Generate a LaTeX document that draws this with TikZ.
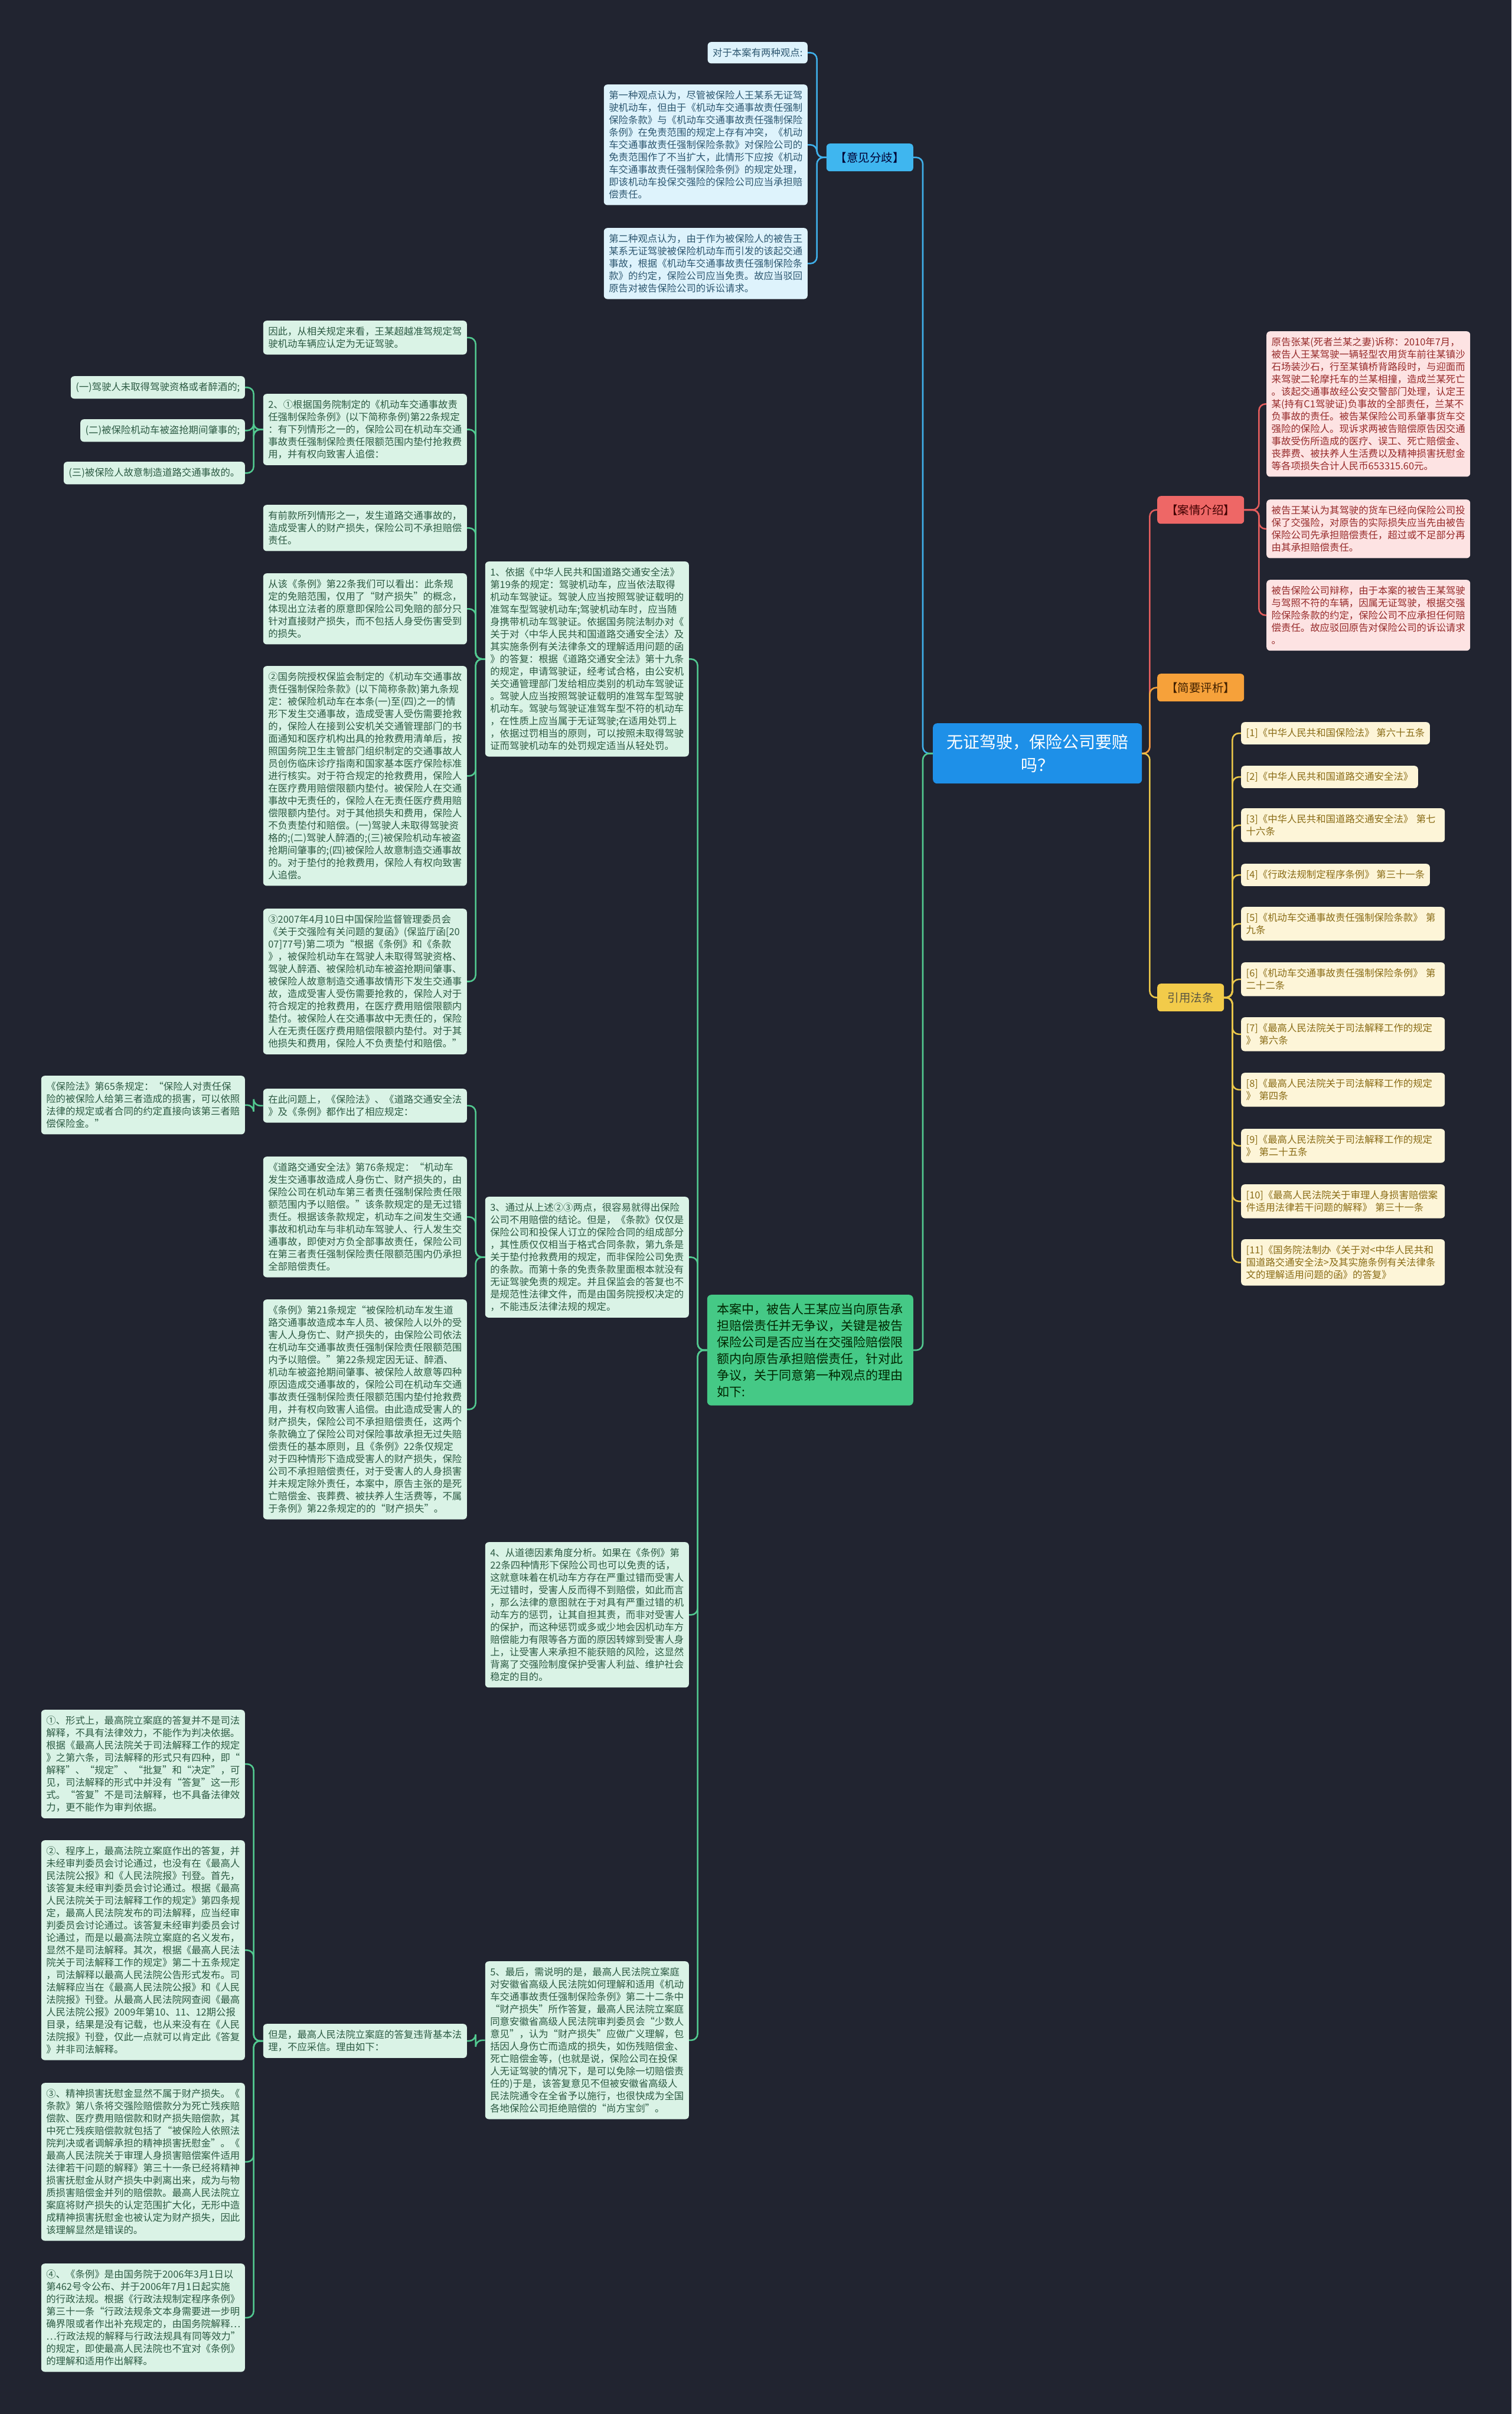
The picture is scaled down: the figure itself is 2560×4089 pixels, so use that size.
\documentclass[tikz,border=0pt]{standalone}
\usepackage{fontspec}
\setmainfont{Noto Sans CJK SC}
\definecolor{bg}{HTML}{212430}
\definecolor{bconn}{HTML}{3FB0EA}
\definecolor{bbr}{HTML}{3FB6EF}
\definecolor{bleaf}{HTML}{DEF3FC}
\definecolor{btext}{HTML}{2D5770}
\definecolor{cfill}{HTML}{1E90E8}
\definecolor{rconn}{HTML}{E35D5D}
\definecolor{rbr}{HTML}{EE6766}
\definecolor{rleaf}{HTML}{FDE3E3}
\definecolor{rtext}{HTML}{962A2A}
\definecolor{obr}{HTML}{F6A13A}
\definecolor{oconn}{HTML}{F2A03C}
\definecolor{ybr}{HTML}{F2CB4A}
\definecolor{yconn}{HTML}{E9C64A}
\definecolor{yleaf}{HTML}{FDF5D8}
\definecolor{ytext}{HTML}{8A6C16}
\definecolor{gconn}{HTML}{52C990}
\definecolor{gbr}{HTML}{45C986}
\definecolor{gleaf}{HTML}{DAF3E6}
\definecolor{gtext}{HTML}{2C5A43}
\tikzset{
  base/.style={rounded corners=6pt, inner xsep=8.5pt, inner ysep=10.5pt, align=left,
    font=\fontsize{16.4}{21}\selectfont},
  wide/.style={base, text width=328pt},
  bl/.style={fill=bleaf, text=btext},
  rl/.style={fill=rleaf, text=rtext},
  yl/.style={fill=yleaf, text=ytext},
  gl/.style={fill=gleaf, text=gtext},
  branch/.style={rounded corners=6pt, inner sep=0pt, minimum height=47pt, align=center,
    font=\fontsize{19.5}{24}\selectfont},
  conn/.style={line width=2.6pt, rounded corners=11pt},
}
\begin{document}
\begin{tikzpicture}[x=1pt,y=-1pt]
\fill[bg] (0,0) rectangle (2560,4089);
\useasboundingbox (0,0) rectangle (2560,4089);

% ---------- centre ----------
\node[anchor=north west, fill=cfill, text=white, rounded corners=7pt, minimum width=354pt,
  minimum height=102pt, inner sep=0pt, align=center, font=\fontsize{28}{39}\selectfont]
  (center) at (1580,1225) {无证驾驶，保险公司要赔\\吗？};

% ---------- opinion branch (blue) ----------
\node[branch, anchor=north east, fill=bbr, text=black!80!blue, minimum width=147pt] (yj) at (1547,243) {【意见分歧】};
\node[base, bl, anchor=north east] (b0) at (1368,71) {对于本案有两种观点:};
\node[wide, bl, anchor=north east] (b1) at (1368,143) {第一种观点认为，尽管被保险人王某系无证驾\\驶机动车，但由于《机动车交通事故责任强制\\保险条款》与《机动车交通事故责任强制保险\\条例》在免责范围的规定上存有冲突，《机动\\车交通事故责任强制保险条款》对保险公司的\\免责范围作了不当扩大，此情形下应按《机动\\车交通事故责任强制保险条例》的规定处理，\\即该机动车投保交强险的保险公司应当承担赔\\偿责任。};
\node[wide, bl, anchor=north east] (b2) at (1368,386) {第二种观点认为，由于作为被保险人的被告王\\某系无证驾驶被保险机动车而引发的该起交通\\事故，根据《机动车交通事故责任强制保险条\\款》的约定，保险公司应当免责。故应当驳回\\原告对被告保险公司的诉讼请求。};

% ---------- right branches ----------
\node[branch, anchor=north west, fill=rbr, text=black!75!red, minimum width=147pt] (aq) at (1960,840) {【案情介绍】};
\node[branch, anchor=north west, fill=obr, text=black!75!orange, minimum width=147pt] (jy) at (1960,1141) {【简要评析】};
\node[branch, anchor=north west, fill=ybr, text=black!75!yellow, minimum width=113pt] (yf) at (1960,1666) {引用法条};

\node[wide, rl, anchor=north west] (r1) at (2145,561) {原告张某(死者兰某之妻)诉称：2010年7月，\\被告人王某驾驶一辆轻型农用货车前往某镇沙\\石场装沙石，行至某镇桥背路段时，与迎面而\\来驾驶二轮摩托车的兰某相撞，造成兰某死亡\\。该起交通事故经公安交警部门处理，认定王\\某(持有C1驾驶证)负事故的全部责任，兰某不\\负事故的责任。被告某保险公司系肇事货车交\\强险的保险人。现诉求两被告赔偿原告因交通\\事故受伤所造成的医疗、误工、死亡赔偿金、\\丧葬费、被扶养人生活费以及精神损害抚慰金\\等各项损失合计人民币653315.60元。};
\node[wide, rl, anchor=north west] (r2) at (2145,846) {被告王某认为其驾驶的货车已经向保险公司投\\保了交强险，对原告的实际损失应当先由被告\\保险公司先承担赔偿责任，超过或不足部分再\\由其承担赔偿责任。};
\node[wide, rl, anchor=north west] (r3) at (2145,982) {被告保险公司辩称，由于本案的被告王某驾驶\\与驾照不符的车辆，因属无证驾驶，根据交强\\险保险条款的约定，保险公司不应承担任何赔\\偿责任。故应驳回原告对保险公司的诉讼请求\\。};

\node[base, yl, anchor=north west] (l1) at (2102,1223) {[1]《中华人民共和国保险法》 第六十五条};
\node[base, yl, anchor=north west] (l2) at (2102,1297) {[2]《中华人民共和国道路交通安全法》};
\node[wide, yl, anchor=north west] (l3) at (2102,1369) {[3]《中华人民共和国道路交通安全法》 第七\\十六条};
\node[base, yl, anchor=north west] (l4) at (2102,1463) {[4]《行政法规制定程序条例》 第三十一条};
\node[wide, yl, anchor=north west] (l5) at (2102,1536) {[5]《机动车交通事故责任强制保险条款》 第\\九条};
\node[wide, yl, anchor=north west] (l6) at (2102,1630) {[6]《机动车交通事故责任强制保险条例》 第\\二十二条};
\node[wide, yl, anchor=north west] (l7) at (2102,1723) {[7]《最高人民法院关于司法解释工作的规定\\》 第六条};
\node[wide, yl, anchor=north west] (l8) at (2102,1817) {[8]《最高人民法院关于司法解释工作的规定\\》 第四条};
\node[wide, yl, anchor=north west] (l9) at (2102,1912) {[9]《最高人民法院关于司法解释工作的规定\\》 第二十五条};
\node[wide, yl, anchor=north west] (l10) at (2102,2006) {[10]《最高人民法院关于审理人身损害赔偿案\\件适用法律若干问题的解释》 第三十一条};
\node[wide, yl, anchor=north west] (l11) at (2102,2099) {[11]《国务院法制办《关于对<中华人民共和\\国道路交通安全法>及其实施条例有关法律条\\文的理解适用问题的函》的答复》};

% ---------- green branch ----------
\node[anchor=north east, fill=gbr, text=black!85!green, rounded corners=7pt, text width=315pt,
  inner xsep=17pt, inner ysep=14pt, align=left, font=\fontsize{21}{28}\selectfont]
  (gn) at (1547,2193) {本案中，被告人王某应当向原告承\\担赔偿责任并无争议，关键是被告\\保险公司是否应当在交强险赔偿限\\额内向原告承担赔偿责任，针对此\\争议，关于同意第一种观点的理由\\如下:};

% middle column
\node[wide, gl, anchor=north east] (m1) at (1167,951) {1、依据《中华人民共和国道路交通安全法》\\第19条的规定：驾驶机动车，应当依法取得\\机动车驾驶证。驾驶人应当按照驾驶证载明的\\准驾车型驾驶机动车;驾驶机动车时，应当随\\身携带机动车驾驶证。依据国务院法制办对《\\关于对〈中华人民共和国道路交通安全法〉及\\其实施条例有关法律条文的理解适用问题的函\\》的答复：根据《道路交通安全法》第十九条\\的规定，申请驾驶证，经考试合格，由公安机\\关交通管理部门发给相应类别的机动车驾驶证\\。驾驶人应当按照驾驶证载明的准驾车型驾驶\\机动车。驾驶与驾驶证准驾车型不符的机动车\\，在性质上应当属于无证驾驶;在适用处罚上\\，依据过罚相当的原则，可以按照未取得驾驶\\证而驾驶机动车的处罚规定适当从轻处罚。};
\node[wide, gl, anchor=north east] (m3) at (1167,2027) {3、通过从上述②③两点，很容易就得出保险\\公司不用赔偿的结论。但是，《条款》仅仅是\\保险公司和投保人订立的保险合同的组成部分\\，其性质仅仅相当于格式合同条款，第九条是\\关于垫付抢救费用的规定，而非保险公司免责\\的条款。而第十条的免责条款里面根本就没有\\无证驾驶免责的规定。并且保监会的答复也不\\是规范性法律文件，而是由国务院授权决定的\\，不能违反法律法规的规定。};
\node[wide, gl, anchor=north east] (m4) at (1167,2612) {4、从道德因素角度分析。如果在《条例》第\\22条四种情形下保险公司也可以免责的话，\\这就意味着在机动车方存在严重过错而受害人\\无过错时，受害人反而得不到赔偿，如此而言\\，那么法律的意图就在于对具有严重过错的机\\动车方的惩罚，让其自担其责，而非对受害人\\的保护，而这种惩罚或多或少地会因机动车方\\赔偿能力有限等各方面的原因转嫁到受害人身\\上，让受害人来承担不能获赔的风险，这显然\\背离了交强险制度保护受害人利益、维护社会\\稳定的目的。};
\node[wide, gl, anchor=north east] (m5) at (1167,3322) {5、最后，需说明的是，最高人民法院立案庭\\对安徽省高级人民法院如何理解和适用《机动\\车交通事故责任强制保险条例》第二十二条中\\“财产损失”所作答复，最高人民法院立案庭\\同意安徽省高级人民法院审判委员会“少数人\\意见”，认为“财产损失”应做广义理解，包\\括因人身伤亡而造成的损失，如伤残赔偿金、\\死亡赔偿金等，(也就是说，保险公司在投保\\人无证驾驶的情况下，是可以免除一切赔偿责\\任的)于是，该答复意见不但被安徽省高级人\\民法院通令在全省予以施行，也很快成为全国\\各地保险公司拒绝赔偿的“尚方宝剑”。};

% second column (right edge 791)
\node[wide, gl, anchor=north east] (c1) at (791,543) {因此，从相关规定来看，王某超越准驾规定驾\\驶机动车辆应认定为无证驾驶。};
\node[wide, gl, anchor=north east] (c2) at (791,667) {2、①根据国务院制定的《机动车交通事故责\\任强制保险条例》(以下简称条例)第22条规定\\：有下列情形之一的，保险公司在机动车交通\\事故责任强制保险责任限额范围内垫付抢救费\\用，并有权向致害人追偿：};
\node[wide, gl, anchor=north east] (c3) at (791,855) {有前款所列情形之一，发生道路交通事故的，\\造成受害人的财产损失，保险公司不承担赔偿\\责任。};
\node[wide, gl, anchor=north east] (c4) at (791,971) {从该《条例》第22条我们可以看出：此条规\\定的免赔范围，仅用了“财产损失”的概念，\\体现出立法者的原意即保险公司免赔的部分只\\针对直接财产损失，而不包括人身受伤害受到\\的损失。};
\node[wide, gl, anchor=north east] (c5) at (791,1128) {②国务院授权保监会制定的《机动车交通事故\\责任强制保险条款》(以下简称条款)第九条规\\定：被保险机动车在本条(一)至(四)之一的情\\形下发生交通事故，造成受害人受伤需要抢救\\的，保险人在接到公安机关交通管理部门的书\\面通知和医疗机构出具的抢救费用清单后，按\\照国务院卫生主管部门组织制定的交通事故人\\员创伤临床诊疗指南和国家基本医疗保险标准\\进行核实。对于符合规定的抢救费用，保险人\\在医疗费用赔偿限额内垫付。被保险人在交通\\事故中无责任的，保险人在无责任医疗费用赔\\偿限额内垫付。对于其他损失和费用，保险人\\不负责垫付和赔偿。(一)驾驶人未取得驾驶资\\格的;(二)驾驶人醉酒的;(三)被保险机动车被盗\\抢期间肇事的;(四)被保险人故意制造交通事故\\的。对于垫付的抢救费用，保险人有权向致害\\人追偿。};
\node[wide, gl, anchor=north east] (c6) at (791,1539) {③2007年4月10日中国保险监督管理委员会\\《关于交强险有关问题的复函》(保监厅函[20\\07]77号)第二项为“根据《条例》和《条款\\》，被保险机动车在驾驶人未取得驾驶资格、\\驾驶人醉酒、被保险机动车被盗抢期间肇事、\\被保险人故意制造交通事故情形下发生交通事\\故，造成受害人受伤需要抢救的，保险人对于\\符合规定的抢救费用，在医疗费用赔偿限额内\\垫付。被保险人在交通事故中无责任的，保险\\人在无责任医疗费用赔偿限额内垫付。对于其\\他损失和费用，保险人不负责垫付和赔偿。”};
\node[wide, gl, anchor=north east] (e1) at (791,1844) {在此问题上，《保险法》、《道路交通安全法\\》及《条例》都作出了相应规定：};
\node[wide, gl, anchor=north east] (e2) at (791,1959) {《道路交通安全法》第76条规定：“机动车\\发生交通事故造成人身伤亡、财产损失的，由\\保险公司在机动车第三者责任强制保险责任限\\额范围内予以赔偿。”该条款规定的是无过错\\责任。根据该条款规定，机动车之间发生交通\\事故和机动车与非机动车驾驶人、行人发生交\\通事故，即使对方负全部事故责任，保险公司\\在第三者责任强制保险责任限额范围内仍承担\\全部赔偿责任。};
\node[wide, gl, anchor=north east] (e3) at (791,2201) {《条例》第21条规定“被保险机动车发生道\\路交通事故造成本车人员、被保险人以外的受\\害人人身伤亡、财产损失的，由保险公司依法\\在机动车交通事故责任强制保险责任限额范围\\内予以赔偿。”第22条规定因无证、醉酒、\\机动车被盗抢期间肇事、被保险人故意等四种\\原因造成交通事故的，保险公司在机动车交通\\事故责任强制保险责任限额范围内垫付抢救费\\用，并有权向致害人追偿。由此造成受害人的\\财产损失，保险公司不承担赔偿责任，这两个\\条款确立了保险公司对保险事故承担无过失赔\\偿责任的基本原则，且《条例》22条仅规定\\对于四种情形下造成受害人的财产损失，保险\\公司不承担赔偿责任，对于受害人的人身损害\\并未规定除外责任，本案中，原告主张的是死\\亡赔偿金、丧葬费、被扶养人生活费等，不属\\于条例》第22条规定的的“财产损失”。};
\node[wide, gl, anchor=north east] (d0) at (791,3428) {但是，最高人民法院立案庭的答复违背基本法\\理，不应采信。理由如下：};

% far-left column (right edge 415)
\node[base, gl, anchor=north east] (s1) at (415,637) {(一)驾驶人未取得驾驶资格或者醉酒的;};
\node[base, gl, anchor=north east] (s2) at (415,710) {(二)被保险机动车被盗抢期间肇事的;};
\node[base, gl, anchor=north east] (s3) at (415,782) {(三)被保险人故意制造道路交通事故的。};
\node[wide, gl, anchor=north east] (f1) at (415,1822) {《保险法》第65条规定：“保险人对责任保\\险的被保险人给第三者造成的损害，可以依照\\法律的规定或者合同的约定直接向该第三者赔\\偿保险金。”};
\node[wide, gl, anchor=north east] (d1) at (415,2896) {①、形式上，最高院立案庭的答复并不是司法\\解释，不具有法律效力，不能作为判决依据。\\根据《最高人民法院关于司法解释工作的规定\\》之第六条，司法解释的形式只有四种，即“\\解释”、“规定”、“批复”和“决定”，可\\见，司法解释的形式中并没有“答复”这一形\\式。“答复”不是司法解释，也不具备法律效\\力，更不能作为审判依据。};
\node[wide, gl, anchor=north east] (d2) at (415,3117) {②、程序上，最高法院立案庭作出的答复，并\\未经审判委员会讨论通过，也没有在《最高人\\民法院公报》和《人民法院报》刊登。首先，\\该答复未经审判委员会讨论通过。根据《最高\\人民法院关于司法解释工作的规定》第四条规\\定，最高人民法院发布的司法解释，应当经审\\判委员会讨论通过。该答复未经审判委员会讨\\论通过，而是以最高法院立案庭的名义发布，\\显然不是司法解释。其次，根据《最高人民法\\院关于司法解释工作的规定》第二十五条规定\\，司法解释以最高人民法院公告形式发布。司\\法解释应当在《最高人民法院公报》和《人民\\法院报》刊登。从最高人民法院网查阅《最高\\人民法院公报》2009年第10、11、12期公报\\目录，结果是没有记载，也从来没有在《人民\\法院报》刊登，仅此一点就可以肯定此《答复\\》并非司法解释。};
\node[wide, gl, anchor=north east] (d3) at (415,3528) {③、精神损害抚慰金显然不属于财产损失。《\\条款》第八条将交强险赔偿款分为死亡残疾赔\\偿款、医疗费用赔偿款和财产损失赔偿款，其\\中死亡残疾赔偿款就包括了“被保险人依照法\\院判决或者调解承担的精神损害抚慰金”。《\\最高人民法院关于审理人身损害赔偿案件适用\\法律若干问题的解释》第三十一条已经将精神\\损害抚慰金从财产损失中剥离出来，成为与物\\质损害赔偿金并列的赔偿款。最高人民法院立\\案庭将财产损失的认定范围扩大化，无形中造\\成精神损害抚慰金也被认定为财产损失，因此\\该理解显然是错误的。};
\node[wide, gl, anchor=north east] (d4) at (415,3834) {④、《条例》是由国务院于2006年3月1日以\\第462号令公布、并于2006年7月1日起实施\\的行政法规。根据《行政法规制定程序条例》\\第三十一条“行政法规条文本身需要进一步明\\确界限或者作出补充规定的，由国务院解释…\\…行政法规的解释与行政法规具有同等效力”\\的规定，即使最高人民法院也不宜对《条例》\\的理解和适用作出解释。};

% ---------- connectors ----------
\draw[conn, bconn] (center.west) -- ++(-17,0) |- (yj.east);
\draw[conn, gconn] (center.west) -- ++(-17,0) |- (gn.east);
\foreach \c in {b0,b1,b2} \draw[conn, bconn] (yj.west) -- ++(-16,0) |- (\c.east);
\draw[conn, rconn] (center.east) -- ++(13,0) |- (aq.west);
\draw[conn, oconn] (center.east) -- ++(13,0) |- (jy.west);
\draw[conn, yconn] (center.east) -- ++(13,0) |- (yf.west);
\foreach \c in {r1,r2,r3} \draw[conn, rconn] (aq.east) -- ++(25,0) |- (\c.west);
\foreach \c in {l1,l2,l3,l4,l5,l6,l7,l8,l9,l10,l11} \draw[conn, yconn] (yf.east) -- ++(14,0) |- (\c.west);
\foreach \c in {m1,m3,m4,m5} \draw[conn, gconn] (gn.west) -- ++(-16,0) |- (\c.east);
\foreach \c in {c1,c2,c3,c4,c5,c6} \draw[conn, gconn] (m1.west) -- ++(-16,0) |- (\c.east);
\foreach \c in {s1,s2,s3} \draw[conn, gconn] (c2.west) -- ++(-16,0) |- (\c.east);
\foreach \c in {e1,e2,e3} \draw[conn, gconn] (m3.west) -- ++(-16,0) |- (\c.east);
\draw[conn, gconn] (e1.west) -- ++(-16,0) |- (f1.east);
\draw[conn, gconn] (m5.west) -- ++(-16,0) |- (d0.east);
\foreach \c in {d1,d2,d3,d4} \draw[conn, gconn] (d0.west) -- ++(-16,0) |- (\c.east);
\end{tikzpicture}
\end{document}
